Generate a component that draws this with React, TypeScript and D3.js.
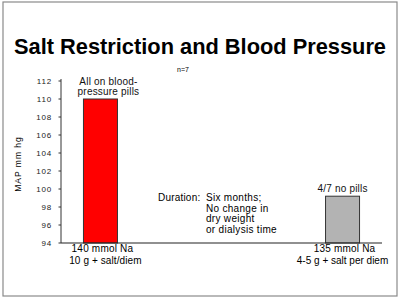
import React from "react";
import * as d3 from "d3";

const categories = ["140 mmol Na", "135 mmol Na"];
const subLabels = ["10 g + salt/diem", "4-5 g + salt per diem"];
const values = [110, 99.2];
const barColors = ["#ff0000", "#b3b3b3"];
const barNotes = [["All on blood-", "pressure pills"], ["4/7 no pills"]];
const yTicks = [94, 96, 98, 100, 102, 104, 106, 108, 110, 112];
const durationLines = ["Six months;", "No change in", "dry weight", "or dialysis time"];

export default function App() {
  const W = 400, H = 298;
  const x0 = 61, x1 = 382, yBase = 243, yTop = 81;
  const x = d3.scalePoint<string>().domain(categories).range([x0, x1]).padding(0.163);
  const y = d3.scaleLinear().domain([94, 112]).range([yBase, yTop]);
  const bw = 34;
  const font = "'Liberation Sans', Arial, sans-serif";
  return (
    <svg width={W} height={H} style={{ position: "absolute", left: 0, top: 0, fontFamily: font }}>
      <rect x={0} y={0} width={W} height={H} fill="#fff" />
      <rect x={3} y={2} width={394} height={294} fill="none" stroke="#8a8a8a" strokeWidth={1.2} />
      <text x={200} y={54} textAnchor="middle" fontSize={21.5} fontWeight="bold" textLength={372} lengthAdjust="spacingAndGlyphs">
        Salt Restriction and Blood Pressure
      </text>
      <text x={183} y={72} textAnchor="middle" fontSize={7}>n=7</text>
      <text transform={`translate(21,164) rotate(-90)`} textAnchor="middle" fontSize={8.5} letterSpacing={1}>
        MAP   mm hg
      </text>
      {yTicks.map((t) => (
        <g key={t}>
          <line x1={x0 - 2.5} x2={x0} y1={y(t)} y2={y(t)} stroke="#333" />
          <text x={52} y={y(t) + 2.8} textAnchor="end" fontSize={8} letterSpacing={0.8} fill="#222">{t}</text>
        </g>
      ))}
      {categories.map((c, i) => (
        <g key={c}>
          <rect x={x(c)! - bw / 2} y={y(values[i])} width={bw} height={yBase - y(values[i])} fill={barColors[i]} stroke="#333" strokeWidth={1} />
          {barNotes[i].map((n, j) => (
            <text key={j} x={x(c)! + (i === 0 ? 8 : 0)} y={y(values[i]) - 4 - (barNotes[i].length - 1 - j) * 10} textAnchor="middle" fontSize={10} fill="#111" letterSpacing={0.2}>{n}</text>
          ))}
          <text x={x(c)! + 2} y={251.5} textAnchor="middle" fontSize={10} letterSpacing={0.2}>{c}</text>
          <text x={x(c)! + (i === 0 ? 5 : 0)} y={264} textAnchor="middle" fontSize={10} letterSpacing={i === 0 ? 0.1 : 0}>{subLabels[i]}</text>
        </g>
      ))}
      <line x1={x0} x2={x0} y1={yTop - 2} y2={yBase} stroke="#333" strokeWidth={1} />
      <line x1={x0} x2={x1} y1={yBase} y2={yBase} stroke="#222" strokeWidth={1.2} />
      <text x={158} y={201} fontSize={10} letterSpacing={0.2}>Duration:</text>
      {durationLines.map((l, i) => (
        <text key={i} x={206} y={201 + i * 10.6} fontSize={10} letterSpacing={0.3}>{l}</text>
      ))}
    </svg>
  );
}
